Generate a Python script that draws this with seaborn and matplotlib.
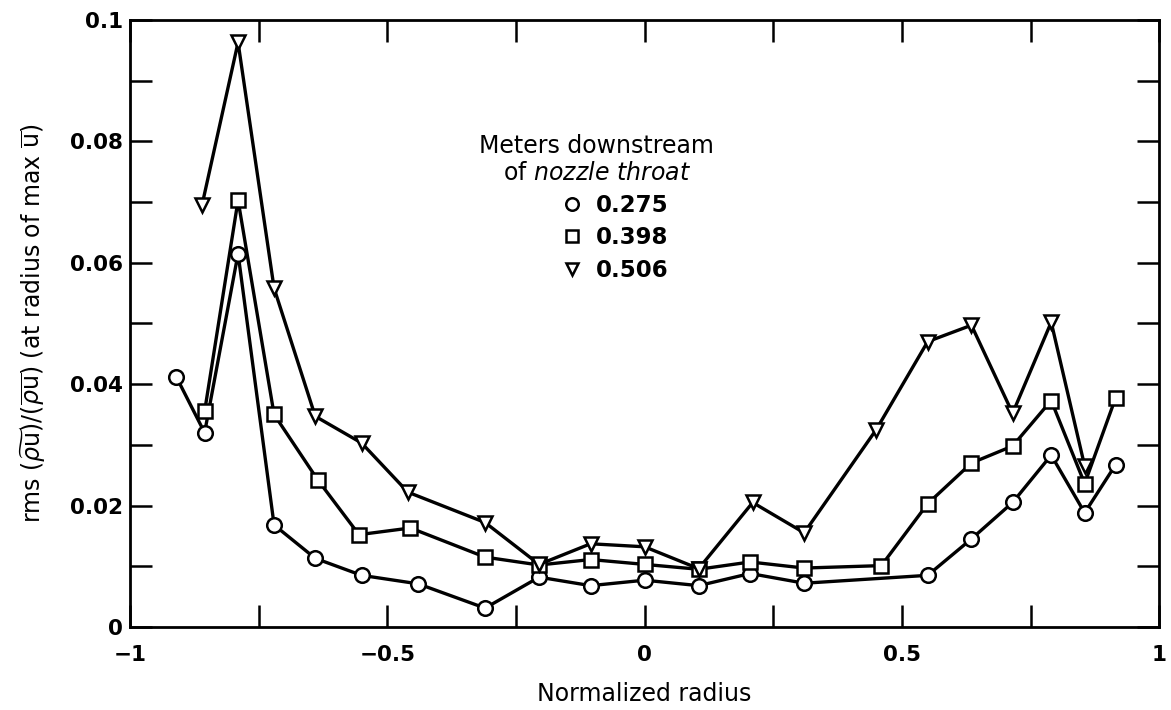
import numpy as np
import pandas as pd
import matplotlib
matplotlib.use("Agg")
import matplotlib.pyplot as plt
from matplotlib.lines import Line2D
from matplotlib.ticker import MultipleLocator, FuncFormatter
import seaborn as sns

# ---- data ----
series_labels = ["0.275", "0.398", "0.506"]

x_275 = [-0.91, -0.855, -0.79, -0.72, -0.64, -0.55, -0.44, -0.31, -0.205, -0.105,
         0.0, 0.105, 0.205, 0.31, 0.55, 0.635, 0.715, 0.79, 0.855, 0.915]
y_275 = [0.0412, 0.032, 0.0615, 0.0168, 0.0113, 0.0085, 0.0071, 0.0031, 0.0082, 0.0068,
         0.0077, 0.0068, 0.0088, 0.0072, 0.0085, 0.0145, 0.0205, 0.0283, 0.0188, 0.0267]

x_398 = [-0.855, -0.79, -0.72, -0.635, -0.555, -0.455, -0.31, -0.205, -0.105, 0.0,
         0.105, 0.205, 0.31, 0.46, 0.55, 0.635, 0.715, 0.79, 0.855, 0.915]
y_398 = [0.0355, 0.0703, 0.035, 0.0242, 0.0152, 0.0163, 0.0115, 0.0102, 0.0111, 0.0103,
         0.0095, 0.0107, 0.0097, 0.0101, 0.0203, 0.027, 0.0298, 0.0373, 0.0236, 0.0377]

x_506 = [-0.86, -0.79, -0.72, -0.64, -0.55, -0.46, -0.31, -0.205, -0.105, 0.0,
         0.105, 0.21, 0.31, 0.45, 0.55, 0.635, 0.715, 0.79, 0.855]
y_506 = [0.0695, 0.0963, 0.0558, 0.0347, 0.0303, 0.0222, 0.0172, 0.0103, 0.0137, 0.0132,
         0.0096, 0.0205, 0.0155, 0.0325, 0.047, 0.0497, 0.0352, 0.0502, 0.0265]

x_ticks = [-1, -0.5, 0, 0.5, 1]
y_ticks = [0, 0.02, 0.04, 0.06, 0.08, 0.1]

legend_title_1 = "Meters downstream"
legend_title_2 = "of $\\mathit{nozzle\\ throat}$"

df = pd.concat([
    pd.DataFrame({"x": x_275, "y": y_275, "series": series_labels[0]}),
    pd.DataFrame({"x": x_398, "y": y_398, "series": series_labels[1]}),
    pd.DataFrame({"x": x_506, "y": y_506, "series": series_labels[2]}),
], ignore_index=True)

sns.set_theme(style="ticks")
plt.rcParams["font.family"] = ["DejaVu Sans"]
plt.rcParams["mathtext.fontset"] = "dejavusans"
for key in ("text.color", "axes.labelcolor", "xtick.color", "ytick.color", "axes.edgecolor"):
    plt.rcParams[key] = "black"

fig = plt.figure(figsize=(11.71, 7.10), dpi=100)
ax = fig.add_axes([0.111, 0.117, 0.879, 0.855])

markers = {"0.275": "o", "0.398": "s", "0.506": "v"}
sns.lineplot(data=df, x="x", y="y", style="series", markers=markers, dashes=False,
             color="black", estimator=None, sort=False, legend=False, ax=ax,
             linewidth=2.4, markersize=10.5, markerfacecolor="white",
             markeredgecolor="black", markeredgewidth=1.8)
for ln in ax.get_lines():
    if ln.get_marker() == "s":
        ln.set_markersize(9.5)

ax.set_xlim(-1, 1)
ax.set_ylim(0, 0.1)
ax.set_xticks(x_ticks)
ax.set_yticks(y_ticks)
ax.xaxis.set_minor_locator(MultipleLocator(0.25))
ax.yaxis.set_minor_locator(MultipleLocator(0.01))

def xfmt(v, pos):
    if abs(v) < 1e-9:
        return "0"
    return f"{v:g}".replace("-", "\u2212")

def yfmt(v, pos):
    if abs(v) < 1e-9:
        return "0"
    return f"{v:g}"

ax.xaxis.set_major_formatter(FuncFormatter(xfmt))
ax.yaxis.set_major_formatter(FuncFormatter(yfmt))

for which in ("major", "minor"):
    ax.tick_params(axis="both", which=which, direction="in", length=16, width=1.8,
                   top=True, right=True, color="black")
ax.tick_params(axis="x", which="major", labelsize=15.5, pad=13)
ax.tick_params(axis="y", which="major", labelsize=15.5, pad=5)
for lab in ax.get_xticklabels() + ax.get_yticklabels():
    lab.set_fontweight("bold")

for sp in ax.spines.values():
    sp.set_linewidth(2.0)
    sp.set_color("black")

ax.set_xlabel("Normalized radius", fontsize=17, labelpad=12)
ax.set_ylabel(r"rms $(\widetilde{\rho\mathrm{u}})/(\overline{\rho\mathrm{u}})$ (at radius of max $\overline{\mathrm{u}}$)",
              fontsize=17, labelpad=16)

# legend title drawn as two centred lines, entries as a marker-only legend
ax.text(0.4534, 0.792, legend_title_1, transform=ax.transAxes, ha="center", va="center",
        fontsize=17)
ax.text(0.4534, 0.7476, legend_title_2, transform=ax.transAxes, ha="center", va="center",
        fontsize=17)

handles = [Line2D([], [], linestyle="none", marker=markers[s], markersize=9,
                  markerfacecolor="white", markeredgecolor="black", markeredgewidth=1.8)
           for s in series_labels]
leg = ax.legend(handles, series_labels, loc="upper left", bbox_to_anchor=(0.4136, 0.7215),
                frameon=False, fontsize=16.5, handletextpad=0.55, labelspacing=0.43,
                handlelength=1.0, borderpad=0.2, borderaxespad=0.0)
for t in leg.get_texts():
    t.set_fontweight("bold")

fig.savefig("out.png", dpi=100, facecolor="white")
